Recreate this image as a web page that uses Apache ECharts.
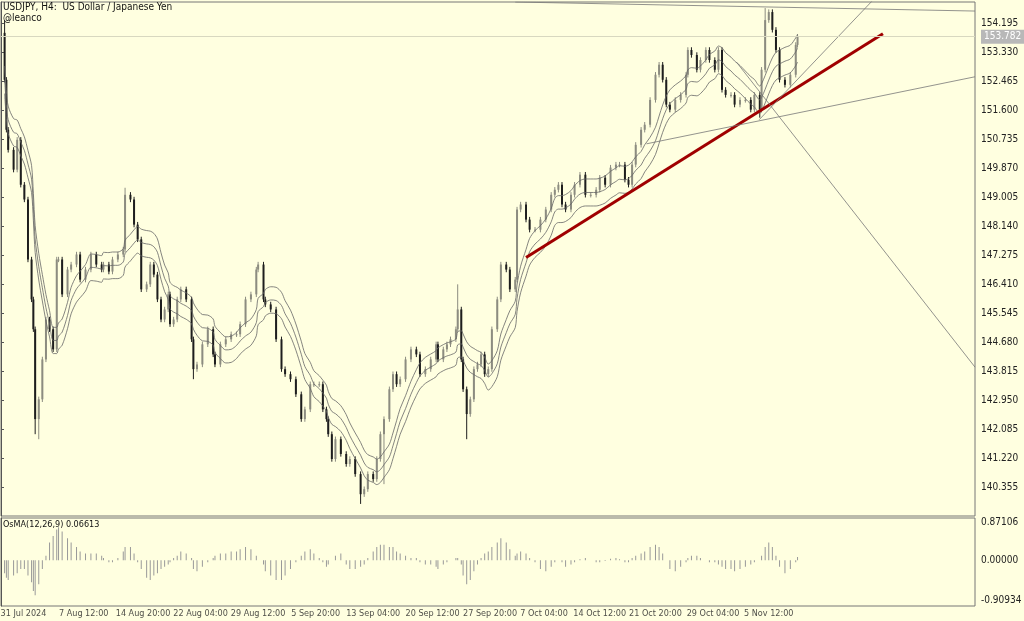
<!DOCTYPE html>
<html><head><meta charset="utf-8">
<script src="https://cdn.jsdelivr.net/npm/echarts@6/dist/echarts.min.js"></script>
<style>html,body{margin:0;padding:0;background:#ffffe0}#c{width:1024px;height:621px}</style>
</head><body><div id="c"></div>
<script>
const bars=[2,3,4,7,9,11,13,15,17,18,19,21,23,25,27,29,31,32,34,37,39,42,44,47,50,53,56,57,60,62,65,68,69,72,74,76,78,81,83,85,87,89,91,93,94,96,98,100,103,106,107,109,112,115,118,119,122,125,128,131,133,136,139,142,143,146,147,150,153,156,158,161,164,167,169,172,174,177,179,181,182,184,186,189,192,194,197,200,202,204,207,209,211,213,216,218,220,222,225,228,231,233,236,239,242,243,246,248,250,253,254,256,257,259,261,263,265,267,269,271,273,276,278,281,283,286,287,289,292,294,297,300,303,306,308,310,312,314,317,319,322,325,328,331,333,336,339,342,344,347,349,351,353,356,358,361,364,366,368,370,372,375,378,381,382,384,387,389,392,394,397,399,401,403,406,408,411,414,417,419,422,423,425,427,429,431,433,436,439,442,443];
const closes=[152.50,151.01,150.41,149.82,150.71,149.37,148.93,147.14,145.95,145.06,142.38,142.97,144.16,145.35,145.06,144.46,147.14,147.14,146.10,146.84,146.99,147.29,146.54,146.84,147.29,146.99,146.84,146.99,146.78,147.14,147.29,147.44,149.07,148.93,148.18,147.74,146.25,146.40,146.99,146.69,145.95,145.35,145.65,146.10,145.21,145.35,145.95,146.25,145.95,144.76,143.87,144.01,144.61,145.06,144.31,144.01,144.61,144.76,144.91,144.91,145.21,145.95,146.10,146.84,146.99,145.95,145.80,145.65,144.76,143.87,143.72,143.57,143.12,142.38,142.67,143.42,143.42,143.42,142.67,142.38,141.93,141.19,141.78,141.34,141.04,141.19,140.74,140.14,140.29,140.74,140.59,141.19,141.93,142.38,143.27,143.72,143.42,143.57,144.16,144.46,144.31,143.72,143.87,144.16,144.61,144.16,144.46,144.61,144.76,145.06,145.65,144.16,143.27,142.53,142.97,143.87,144.01,144.31,143.72,143.87,145.06,145.95,146.99,146.84,146.25,146.54,148.63,148.78,148.33,148.03,148.03,148.33,148.63,149.07,149.22,149.37,148.78,148.63,149.07,149.37,149.67,149.07,149.07,149.22,149.58,149.37,149.88,149.97,149.97,149.52,149.37,149.97,150.56,151.01,151.16,151.90,152.65,152.95,152.50,151.76,151.61,151.90,152.05,152.65,153.39,153.24,152.80,153.09,153.39,153.09,152.80,153.39,152.20,152.05,152.05,151.76,151.90,151.90,151.61,152.05,151.61,152.80,154.28,154.52,153.99,153.39,152.50,152.35,152.65,153.54,153.78];
const osma=[-0.3,-0.4,-0.45,-0.35,-0.3,-0.2,-0.2,-0.35,-0.5,-0.7,-0.8,-0.55,-0.2,0.1,0.4,0.55,0.7,0.75,0.65,0.5,0.4,0.3,0.2,0.15,0.15,0.15,0.1,0.05,-0.05,-0.05,0.05,0.2,0.3,0.3,0.15,-0.05,-0.2,-0.4,-0.45,-0.35,-0.3,-0.2,-0.15,-0.1,-0.05,0.05,0.1,0.2,0.15,0.05,-0.2,-0.25,-0.15,-0.05,0.05,0.1,0.15,0.15,0.2,0.2,0.25,0.3,0.25,0.1,0.0,-0.1,-0.25,-0.35,-0.45,-0.45,-0.35,-0.2,-0.05,0.1,0.2,0.25,0.15,0.05,-0.05,-0.15,-0.1,0.0,0.1,0.15,-0.1,-0.2,-0.2,-0.15,-0.1,0.05,0.2,0.3,0.35,0.35,0.3,0.3,0.2,0.15,0.1,0.05,0.05,-0.05,-0.1,-0.1,-0.15,-0.2,-0.1,-0.05,0.0,0.05,0.05,-0.1,-0.35,-0.55,-0.45,-0.25,-0.1,0.05,0.15,0.2,0.3,0.4,0.5,0.4,0.25,0.1,0.15,0.2,0.15,0.05,-0.05,-0.2,-0.25,-0.15,-0.05,0.0,-0.05,-0.15,-0.1,-0.05,0.02,0.05,0.0,-0.05,-0.05,-0.02,0.03,0.05,0.02,-0.05,-0.05,0.05,0.1,0.15,0.2,0.3,0.35,0.3,0.15,0.0,-0.2,-0.25,-0.15,-0.05,0.05,0.1,0.1,0.05,0.0,-0.05,-0.05,-0.1,-0.15,-0.2,-0.2,-0.25,-0.2,-0.15,-0.1,-0.05,0.0,0.1,0.3,0.4,0.3,0.1,-0.15,-0.3,-0.2,-0.05,0.07];
const firstOpen=153.9;
const wickHigh={2:154.28,69:149.28,254:146.40,425:154.64};
const wickLow={19:141.93,21:141.78,107:143.57,200:139.85,213:140.44,259:141.78,422:151.37};
const dateLabels=[[12.5,'31 Jul 2024'],[46,'7 Aug 12:00'],[79,'14 Aug 20:00'],[111,'22 Aug 04:00'],[143,'29 Aug 12:00'],[175,'5 Sep 20:00'],[207,'13 Sep 04:00'],[240,'20 Sep 12:00'],[272,'27 Sep 20:00'],[302,'7 Oct 04:00'],[333,'14 Oct 12:00'],[364,'21 Oct 20:00'],[396,'29 Oct 04:00'],[427,'5 Nov 12:00']];
const trendRed=[[292,147.20],[490.5,153.87]];
const trendLines=[[[286,154.82],[541.7,154.55]],[[359,150.59],[541.7,152.59]],[[421.7,151.31],[485,154.88]],[[409,153.03],[541.7,143.93]]];
const lastPrice=153.782;
const base=140.355, step=0.865;
const oscLabels=[0.87106,0.00000,-0.90934];

const S=v=>v-base;
const candles=bars.map((b,i)=>{const o=i?closes[i-1]:firstOpen,c=closes[i];
 const h=wickHigh[b]!==undefined?wickHigh[b]:Math.max(o,c)+0.08;
 const l=wickLow[b]!==undefined?wickLow[b]:Math.min(o,c)-0.08;
 return [b,S(o),S(c),S(l),S(h)];});
function ma(off){const n=9;return bars.map((b,i)=>{const a=Math.max(0,i-n+1);let s=0;for(let k=a;k<=i;k++)s+=closes[k];return [b,S(s/(i-a+1)*(1+off))];});}
const font='"DejaVu Sans Condensed", "Liberation Sans Narrow", Tahoma, sans-serif';
const ch=echarts.init(document.getElementById('c'));
const thin={color:'#666',width:0.8};
const series=[
 {type:'custom',xAxisIndex:0,yAxisIndex:0,data:candles,clip:true,renderItem:(p,api)=>{
   const x=api.value(0),o=api.value(1),c=api.value(2),l=api.value(3),h=api.value(4);
   const po=api.coord([x,o]),pc=api.coord([x,c]),pl=api.coord([x,l]),ph=api.coord([x,h]);
   const up=c>=o,col=up?'#8c8c80':'#1e1e1e';
   const top=Math.min(po[1],pc[1]),hh=Math.max(1,Math.abs(po[1]-pc[1]));
   return {type:'group',children:[
    {type:'line',shape:{x1:pl[0],y1:pl[1],x2:ph[0],y2:ph[1]},style:{stroke:col,lineWidth:1}},
    {type:'rect',shape:{x:po[0]-1,y:top,width:2,height:hh},style:{fill:col}}]};}},
 {type:'line',data:ma(0),showSymbol:false,lineStyle:thin,smooth:0.3,silent:true},
 {type:'line',data:ma(0.0027),showSymbol:false,lineStyle:thin,smooth:0.3,silent:true},
 {type:'line',data:ma(-0.0027),showSymbol:false,lineStyle:thin,smooth:0.3,silent:true},
 {type:'line',data:trendRed.map(p=>[p[0],S(p[1])]),showSymbol:false,lineStyle:{color:'#a00000',width:3},silent:true},
 ...trendLines.map(t=>({type:'line',data:t.map(p=>[p[0],S(p[1])]),showSymbol:false,lineStyle:{color:'#777',width:0.8},silent:true})),
 {type:'line',data:[],markLine:{symbol:'none',silent:true,data:[{yAxis:S(lastPrice)}],lineStyle:{color:'#d8d8c0',type:'solid',width:1},
   label:{position:'end',distance:6,formatter:lastPrice.toFixed(3),color:'#fff',backgroundColor:'#b8b8b8',padding:[2,3],fontFamily:font,fontSize:10}}},
 {type:'bar',xAxisIndex:1,yAxisIndex:1,data:bars.map((b,i)=>[b,osma[i]]),barWidth:1,itemStyle:{color:'#999'},silent:true},
 {type:'line',xAxisIndex:1,yAxisIndex:1,data:[],
   markLine:{symbol:'none',silent:true,precision:5,data:oscLabels.map(v=>({yAxis:v})),lineStyle:{color:'rgba(0,0,0,0)'},
   label:{show:true,position:'end',distance:6,formatter:p=>oscLabels[p.dataIndex].toFixed(5),color:'#222',fontFamily:font,fontSize:10}}},
 {type:'scatter',xAxisIndex:2,yAxisIndex:2,symbolSize:0,data:dateLabels.map(d=>({value:[d[0],0.5],name:d[1]})),
   label:{show:true,position:'inside',formatter:p=>p.name,color:'#222',fontFamily:font,fontSize:9},silent:true}
];
ch.setOption({
 backgroundColor:'#ffffe0',animation:false,
 grid:[{left:1,right:49,top:2,height:514,show:true,borderColor:'#777',borderWidth:1},
       {left:1,right:49,top:518,height:88,show:true,borderColor:'#777',borderWidth:1},
       {left:1,right:49,top:606,height:15}],
 xAxis:[0,1,2].map(i=>({type:'value',gridIndex:i,min:0,max:541.7,show:false})),
 yAxis:[{type:'value',gridIndex:0,position:'right',min:-step,max:14.465,interval:step,scale:true,
   axisLine:{show:true,lineStyle:{color:'#555'}},axisTick:{show:true,length:3,lineStyle:{color:'#555'}},splitLine:{show:false},
   axisLabel:{color:'#222',fontFamily:font,fontSize:10,margin:6,formatter:v=>(v+base).toFixed(3),showMinLabel:false,showMaxLabel:false}},
  {type:'value',gridIndex:1,position:'right',min:-1.043,max:0.96,axisLine:{show:true,lineStyle:{color:'#555'}},axisTick:{show:false},axisLabel:{show:false},splitLine:{show:false}},
  {type:'value',gridIndex:2,min:0,max:1,show:false}],
 graphic:[
  {type:'text',left:3,top:2,style:{text:'USDJPY, H4:  US Dollar / Japanese Yen',fill:'#111',font:'10px '+font}},
  {type:'text',left:3,top:13,style:{text:'@leanco',fill:'#111',font:'10px '+font}},
  {type:'text',left:3,top:520,style:{text:'OsMA(12,26,9) 0.06613',fill:'#111',font:'9px '+font}}],
 series
});
</script></body></html>
